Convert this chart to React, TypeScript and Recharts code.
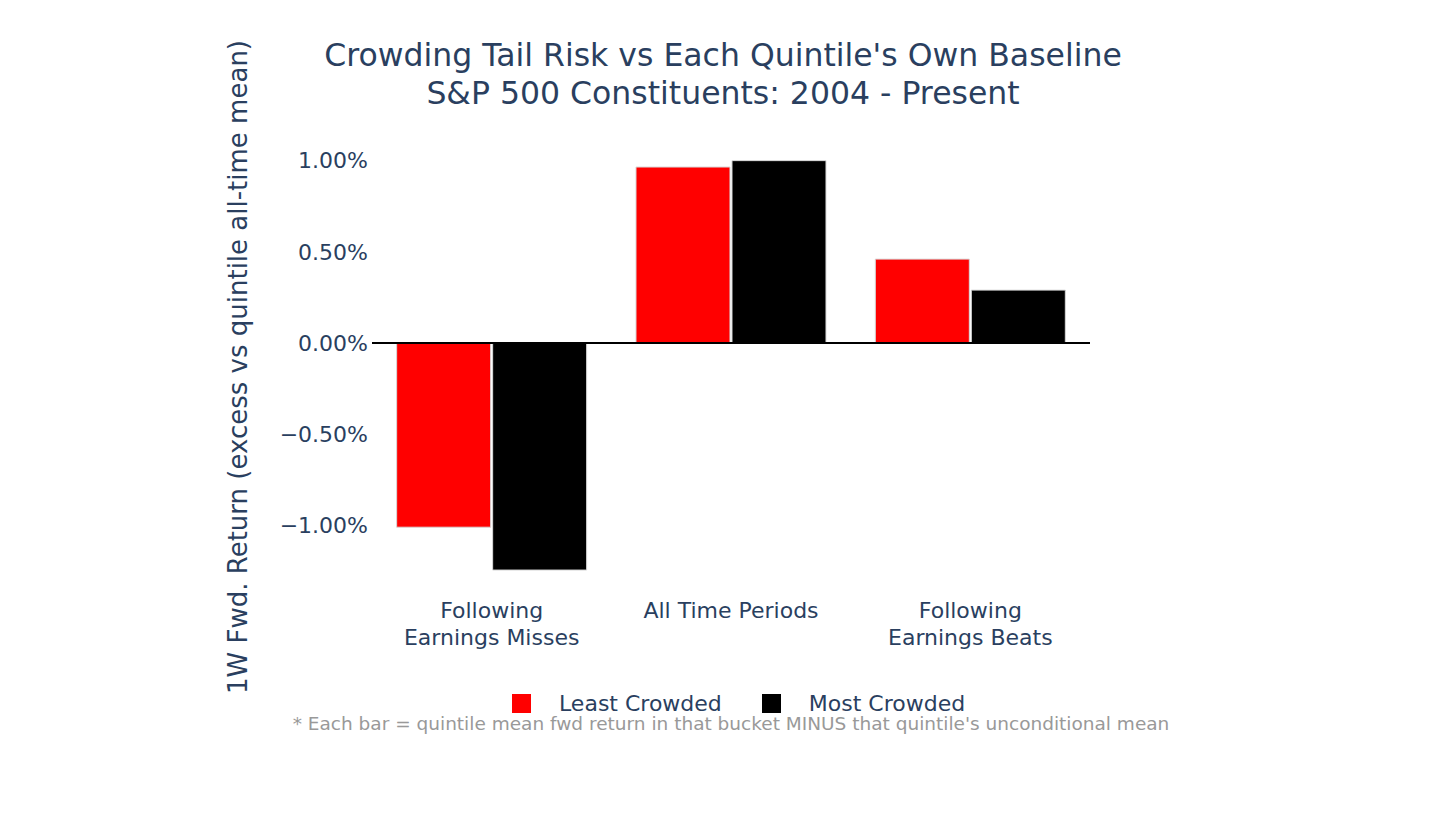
import { BarChart, Bar, XAxis, YAxis, ReferenceLine } from 'recharts'

// categories (line breaks where the reference wraps the tick label)
const categories = ['Following\nEarnings Misses', 'All Time Periods', 'Following\nEarnings Beats']
// excess 1W forward return, in percent
const leastCrowded = [-1.01, 0.965, 0.46]
const mostCrowded = [-1.245, 1.0, 0.29]
const yTicks = [-1, -0.5, 0, 0.5, 1]

const series = [
  { key: 'least', name: 'Least Crowded', color: '#ff0000' },
  { key: 'most', name: 'Most Crowded', color: '#000000' },
]

const FONT = '"DejaVu Sans", Verdana, sans-serif'
const TEXT = '#2a3f5f'

const data = categories.map((c, i) => ({
  category: c,
  least: leastCrowded[i],
  most: mostCrowded[i],
}))

// plotly-style percent ticks with a real minus sign
const fmtPct = (v: number) => (v < 0 ? '\u2212' : '') + Math.abs(v).toFixed(2) + '%'

function XTick({ x, y, payload }: any) {
  const lines = String(payload.value).split('\n')
  return (
    <text x={x} y={y} textAnchor="middle" fill={TEXT} fontSize={22} fontFamily={FONT}>
      {lines.map((l, i) => (
        <tspan key={i} x={x} dy={i === 0 ? 29 : 27}>
          {l}
        </tspan>
      ))}
    </text>
  )
}

export default function App() {
  return (
    <div style={{ position: 'absolute', left: 0, top: 0, width: 1456, height: 813, background: '#fff', fontFamily: FONT }}>
      <div style={{ position: 'absolute', left: 0, width: 1446, top: 36, textAlign: 'center', color: TEXT, fontSize: 31.5, lineHeight: '38px' }}>
        Crowding Tail Risk vs Each Quintile's Own Baseline
        <br />
        S&amp;P 500 Constituents: 2004 - Present
      </div>
      <div
        style={{
          position: 'absolute',
          left: 238,
          top: 367,
          transform: 'translate(-50%, -50%) rotate(-90deg)',
          whiteSpace: 'nowrap',
          color: TEXT,
          fontSize: 26,
        }}
      >
        1W Fwd. Return (excess vs quintile all-time mean)
      </div>
      <BarChart
        width={1456}
        height={813}
        data={data}
        margin={{ top: 142.4, right: 366, bottom: 163.8, left: 272 }}
        barCategoryGap="10.3%"
        barGap={2}
      >
        <XAxis
          dataKey="category"
          axisLine={false}
          tickLine={false}
          tickSize={0}
          tickMargin={0}
          height={60}
          interval={0}
          tick={<XTick />}
        />
        <YAxis
          domain={[-1.35, 1.1]}
          ticks={yTicks}
          allowDataOverflow
          width={100}
          axisLine={false}
          tickLine={false}
          tickSize={0}
          tickMargin={4}
          tickFormatter={fmtPct}
          tick={{ fill: TEXT, fontSize: 22, fontFamily: FONT }}
        />
        {series.map((s) => (
          <Bar
            key={s.key}
            dataKey={s.key}
            name={s.name}
            fill={s.color}
            stroke="#d8d8d8"
            strokeWidth={1}
            isAnimationActive={false}
          />
        ))}
        <ReferenceLine y={0} stroke="#000" strokeWidth={2} />
      </BarChart>
      <div
        style={{
          position: 'absolute',
          left: 512,
          top: 690,
          height: 26,
          display: 'flex',
          alignItems: 'center',
          fontSize: 22,
          color: TEXT,
        }}
      >
        {series.map((s, i) => (
          <div key={s.key} style={{ display: 'flex', alignItems: 'center', marginRight: i === 0 ? 40 : 0 }}>
            <span style={{ width: 19, height: 19, background: s.color, display: 'inline-block', marginRight: 28 }} />
            <span>{s.name}</span>
          </div>
        ))}
      </div>
      <div style={{ position: 'absolute', left: 0, width: 1462, top: 713, textAlign: 'center', color: '#999', fontSize: 18.5 }}>
        * Each bar = quintile mean fwd return in that bucket MINUS that quintile's unconditional mean
      </div>
    </div>
  )
}
